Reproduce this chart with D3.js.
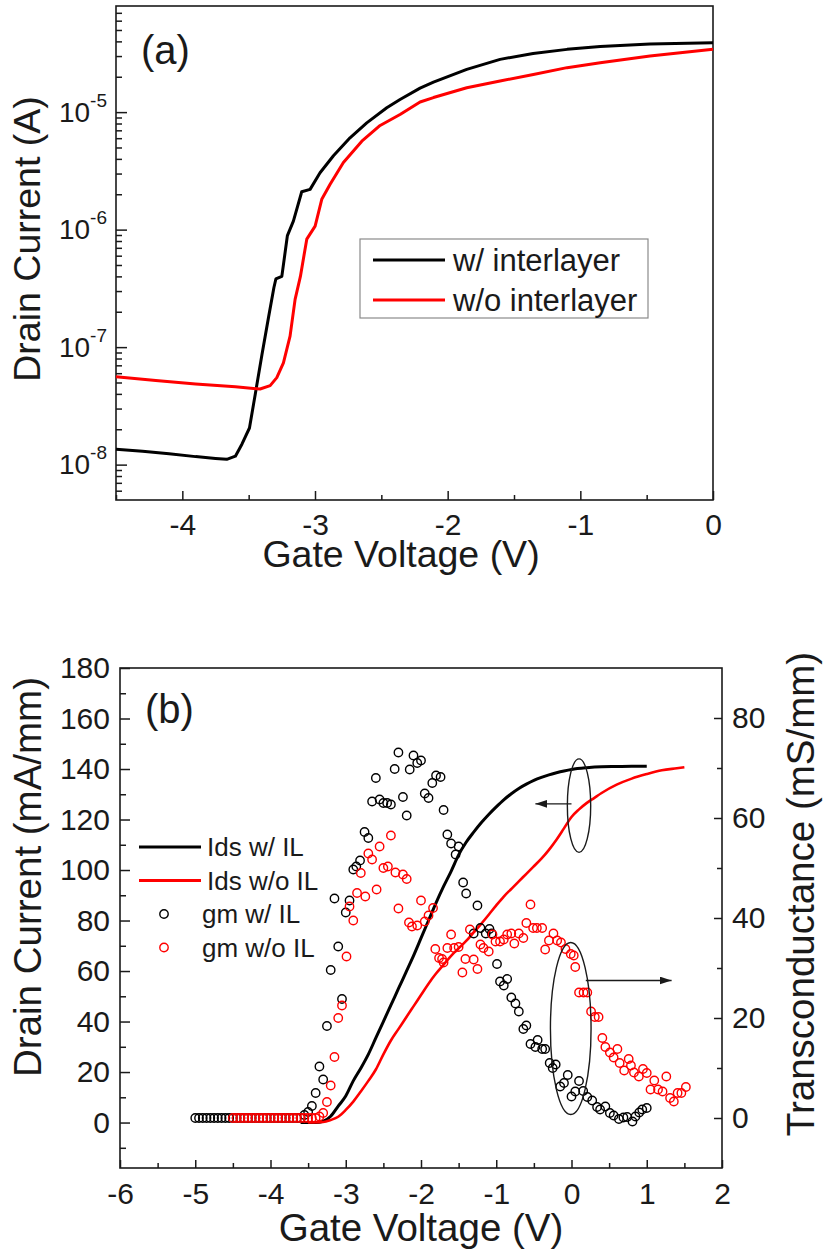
<!DOCTYPE html>
<html>
<head>
<meta charset="utf-8">
<script src="https://cdn.jsdelivr.net/npm/d3@7"></script>
<style>
  body { margin: 0; background: #fff; }
  svg { display: block; background: #fff; }
</style>
</head>
<body>
<svg id="chart" width="825" height="1253"></svg>
<script>
// ---- panel (a): drain current vs gate voltage, log scale [V, A]
const aCurveWithIL = [
  [-4.5, 1.35e-8], [-4.3, 1.3e-8], [-4.1, 1.24e-8], [-3.9, 1.17e-8], [-3.75, 1.13e-8],
  [-3.665, 1.11e-8], [-3.6, 1.18e-8], [-3.55, 1.5e-8], [-3.494, 2.05e-8], [-3.45, 4.0e-8],
  [-3.4, 8.6e-8], [-3.35, 1.8e-7], [-3.31, 3.2e-7], [-3.295, 3.8e-7], [-3.25, 4.0e-7],
  [-3.208, 8.9e-7], [-3.163, 1.18e-6], [-3.1, 2.1e-6], [-3.037, 2.2e-6], [-2.962, 3.05e-6],
  [-2.861, 4.25e-6], [-2.736, 6.05e-6], [-2.61, 8.1e-6], [-2.459, 1.09e-5], [-2.359, 1.28e-5],
  [-2.208, 1.6e-5], [-2.107, 1.8e-5], [-1.856, 2.31e-5], [-1.605, 2.81e-5], [-1.356, 3.16e-5],
  [-1.1, 3.42e-5], [-0.85, 3.62e-5], [-0.475, 3.8e-5], [0, 3.9e-5]
];
const aCurveWithoutIL = [
  [-4.5, 5.6e-8], [-4.2, 5.2e-8], [-3.9, 4.85e-8], [-3.6, 4.6e-8], [-3.414, 4.4e-8],
  [-3.338, 4.7e-8], [-3.288, 5.5e-8], [-3.238, 7.35e-8], [-3.188, 1.24e-7], [-3.15, 2.55e-7],
  [-3.11, 4.0e-7], [-3.062, 8.3e-7], [-2.999, 1.07e-6], [-2.949, 1.81e-6], [-2.886, 2.43e-6],
  [-2.786, 3.72e-6], [-2.647, 5.66e-6], [-2.509, 7.7e-6], [-2.359, 9.55e-6], [-2.208, 1.22e-5],
  [-2.107, 1.33e-5], [-1.856, 1.61e-5], [-1.605, 1.84e-5], [-1.354, 2.09e-5], [-1.1, 2.39e-5],
  [-0.85, 2.63e-5], [-0.475, 3.0e-5], [0, 3.42e-5]
];
const aLegend = ['w/ interlayer', 'w/o interlayer'];
const aTicksX = [-4, -3, -2, -1, 0];
const aDecades = [-8, -7, -6, -5];

// ---- panel (b): Ids [V, mA/mm] on left axis, gm [V, mS/mm] on right axis
const bIdsWithIL = [
  [-3.6, 0], [-3.4, 0], [-3.3, 0.5], [-3.2, 2.5], [-3.1, 6.5], [-3.0, 10.5], [-2.9, 16.5],
  [-2.8, 21.5], [-2.7, 27], [-2.6, 33.5], [-2.5, 40], [-2.4, 46.5], [-2.3, 53], [-2.2, 59.5],
  [-2.1, 66], [-2.0, 73], [-1.9, 80], [-1.8, 87], [-1.7, 93.5], [-1.6, 99.5], [-1.5, 106],
  [-1.4, 111], [-1.3, 115], [-1.2, 118.7], [-1.1, 122], [-1.0, 125], [-0.9, 127.8],
  [-0.8, 130.2], [-0.7, 132.3], [-0.6, 134], [-0.5, 135.5], [-0.4, 136.7], [-0.3, 137.7],
  [-0.2, 138.5], [-0.1, 139.2], [0, 139.8], [0.2, 140.5], [0.4, 140.9], [0.6, 141],
  [0.8, 141.1], [1.0, 141.1]
];
const bIdsWithoutIL = [
  [-3.5, 0], [-3.3, 0.2], [-3.2, 1], [-3.1, 2.3], [-3.0, 5], [-2.9, 8.3], [-2.8, 12.3],
  [-2.7, 16.5], [-2.6, 21], [-2.5, 27], [-2.4, 32.5], [-2.3, 37], [-2.2, 41.5], [-2.1, 46],
  [-2.0, 50.5], [-1.9, 55], [-1.8, 59], [-1.7, 62.5], [-1.6, 66], [-1.5, 69], [-1.4, 71.9],
  [-1.3, 75.3], [-1.2, 78.7], [-1.1, 82.3], [-1.0, 86], [-0.9, 89.5], [-0.8, 92.5],
  [-0.7, 95.5], [-0.6, 98.5], [-0.5, 101.5], [-0.4, 104.5], [-0.3, 108], [-0.2, 112],
  [-0.1, 116.5], [0, 121], [0.1, 124], [0.2, 126.5], [0.3, 128.5], [0.4, 130.5],
  [0.6, 133.8], [0.8, 136.2], [1.0, 138], [1.2, 139.5], [1.4, 140.3], [1.5, 140.7]
];
const bGmWithIL = [
  [-5.0, 0], [-4.95, 0], [-4.9, 0], [-4.85, 0], [-4.8, 0], [-4.75, 0], [-4.7, 0], [-4.65, 0],
  [-4.6, 0], [-4.55, 0], [-4.5, 0], [-4.45, 0], [-4.4, 0], [-4.35, 0], [-4.3, 0], [-4.25, 0],
  [-4.2, 0], [-4.15, 0], [-4.1, 0], [-4.05, 0], [-4.0, 0], [-3.95, 0], [-3.9, 0], [-3.85, 0],
  [-3.8, 0], [-3.75, 0], [-3.7, 0], [-3.65, 0], [-3.6, 0], [-3.55, 0.6], [-3.5, 1.2],
  [-3.45, 2.4], [-3.4, 5.0], [-3.35, 10.3], [-3.3, 7.7], [-3.25, 18.4], [-3.2, 29.6],
  [-3.15, 43.9], [-3.1, 34.3], [-3.05, 23.8], [-3.0, 41.1], [-2.95, 43.5], [-2.9, 49.7],
  [-2.86, 50.3], [-2.81, 51.5], [-2.75, 57.2], [-2.7, 56], [-2.65, 63.3], [-2.6, 68],
  [-2.55, 63.7], [-2.5, 63], [-2.45, 63], [-2.4, 62.7], [-2.35, 69.8], [-2.3, 73.1],
  [-2.24, 64.2], [-2.19, 60.5], [-2.15, 69.7], [-2.1, 72.5], [-2.05, 71], [-2.0, 71.5],
  [-1.95, 64.9], [-1.9, 64], [-1.85, 67], [-1.8, 68.5], [-1.74, 68.2], [-1.7, 61.6],
  [-1.65, 56.7], [-1.6, 54.9], [-1.54, 52.7], [-1.5, 54.3], [-1.44, 47.1], [-1.4, 44.9],
  [-1.3, 36.9], [-1.25, 42.5], [-1.21, 38], [-1.14, 36.9], [-1.09, 37.8], [-1.06, 36.9],
  [-0.99, 30.8], [-0.95, 27.3], [-0.9, 26.5], [-0.855, 27.8], [-0.8, 24.1], [-0.745, 22.9],
  [-0.7, 21.3], [-0.64, 17.8], [-0.6, 18.5], [-0.545, 14.8], [-0.48, 14.2], [-0.45, 15.6],
  [-0.39, 13.8], [-0.35, 13.8], [-0.29, 11], [-0.25, 10], [-0.21, 10.7], [-0.15, 6.3],
  [-0.1, 7], [-0.05, 8.6], [0, 4.3], [0.05, 5.3], [0.1, 7.4], [0.155, 5.4], [0.21, 4.2],
  [0.275, 3.5], [0.34, 2.2], [0.38, 1.7], [0.45, 2.3], [0.51, 1.0], [0.56, 0.5], [0.63, -0.2],
  [0.69, 0.1], [0.74, 0.2], [0.81, -0.7], [0.85, 0.3], [0.9, 1.1], [0.94, 1.7], [1.0, 2.0]
];
const bGmWithoutIL = [
  [-4.5, 0], [-4.45, 0], [-4.4, 0], [-4.35, 0], [-4.3, 0], [-4.25, 0], [-4.2, 0], [-4.15, 0],
  [-4.1, 0], [-4.05, 0], [-4.0, 0], [-3.95, 0], [-3.9, 0], [-3.85, 0], [-3.8, 0], [-3.75, 0],
  [-3.7, 0], [-3.65, 0], [-3.6, 0], [-3.55, 0], [-3.5, 0], [-3.45, 0], [-3.4, 0], [-3.35, 0.3],
  [-3.3, 1.0], [-3.25, 3.2], [-3.2, 6.5], [-3.15, 12.2], [-3.1, 20], [-3.05, 22.5],
  [-2.99, 32.3], [-2.95, 42.3], [-2.9, 39.5], [-2.85, 45], [-2.8, 49], [-2.74, 44.3],
  [-2.7, 52.9], [-2.65, 51.7], [-2.59, 45.7], [-2.55, 54.3], [-2.5, 50], [-2.44, 50.3],
  [-2.4, 56.5], [-2.34, 49.1], [-2.3, 41.9], [-2.24, 48.7], [-2.19, 47.8], [-2.16, 39.1],
  [-2.12, 38.3], [-2.05, 38.5], [-2.0, 43.5], [-1.95, 39.3], [-1.9, 40.5], [-1.84, 42],
  [-1.81, 33.8], [-1.76, 32], [-1.72, 31.8], [-1.7, 31.1], [-1.65, 34], [-1.6, 36.7],
  [-1.56, 34], [-1.5, 34.2], [-1.45, 29.1], [-1.41, 31.8], [-1.35, 37.7], [-1.3, 31.7],
  [-1.25, 29.8], [-1.21, 34.7], [-1.17, 34], [-1.1, 33.3], [-1.05, 36.7], [-1.01, 35.3],
  [-0.95, 35.3], [-0.9, 35.7], [-0.855, 36.7], [-0.8, 36.9], [-0.76, 34.9], [-0.7, 36.9],
  [-0.64, 36], [-0.6, 39], [-0.545, 42.7], [-0.51, 38], [-0.46, 38], [-0.39, 38],
  [-0.35, 33.7], [-0.3, 35.5], [-0.24, 36.9], [-0.19, 35.5], [-0.14, 35.1], [-0.08, 33.8],
  [-0.01, 32.8], [0.03, 32.5], [0.05, 30.2], [0.1, 25.1], [0.16, 25.1], [0.21, 25.1],
  [0.26, 21.3], [0.31, 20.2], [0.36, 20.2], [0.41, 16], [0.45, 14.2], [0.51, 13.1],
  [0.56, 12.1], [0.61, 13.8], [0.64, 11], [0.7, 9.5], [0.76, 11.8], [0.79, 10.5], [0.83, 9.1],
  [0.895, 8.3], [0.95, 9.8], [1.0, 9], [1.05, 5.7], [1.1, 7.5], [1.15, 5.7], [1.21, 5.3],
  [1.26, 8.3], [1.31, 4.0], [1.36, 3.3], [1.41, 5.0], [1.46, 5.0], [1.52, 6.2]
];
const bLegend = ['Ids w/ IL', 'Ids w/o IL', 'gm w/ IL', 'gm w/o IL'];
const bTicksX = [-6, -5, -4, -3, -2, -1, 0, 1, 2];
const bTicksLeft = [0, 20, 40, 60, 80, 100, 120, 140, 160, 180];
const bTicksRight = [0, 20, 40, 60, 80];
// ellipse + arrow call-outs, in data units
const bIdsCallout = { v: 0.1, y: 125.5, dv: 0.155, dy: 18.5, from: 0, to: -0.48, at: 126.2 };
const bGmCallout = { v: -0.01, y: 17.9, dv: 0.27, dy: 17.2, from: 0.19, to: 1.33, at: 27.5 };

const font = '"Liberation Sans", Arial, sans-serif';
const ink = '#1a1a1a';
const red = '#ff0000';

const svg = d3.select('#chart');

svg.append('defs').append('marker')
  .attr('id', 'head')
  .attr('viewBox', '0 0 12 8')
  .attr('refX', 12).attr('refY', 4)
  .attr('markerWidth', 12).attr('markerHeight', 8)
  .attr('markerUnits', 'userSpaceOnUse')
  .attr('orient', 'auto')
  .append('path').attr('d', 'M0,0L12,4L0,8Z').attr('fill', ink);

function axisLayer(axis, transform, fontSize) {
  const g = svg.append('g').attr('transform', transform).call(axis);
  g.select('.domain').remove();
  g.selectAll('line').attr('stroke', ink).attr('stroke-width', 1.5);
  g.selectAll('text')
    .attr('font-size', fontSize)
    .attr('font-family', font)
    .attr('fill', ink);
  return g;
}

function frame(box) {
  svg.append('rect')
    .attr('x', box.left).attr('y', box.top)
    .attr('width', box.right - box.left).attr('height', box.bottom - box.top)
    .attr('fill', 'none').attr('stroke', ink).attr('stroke-width', 1.6);
}

function label(text, x, y, size, rotate, anchor = 'middle') {
  svg.append('text')
    .attr('transform', `translate(${x},${y})` + (rotate ? ' rotate(-90)' : ''))
    .attr('text-anchor', anchor)
    .attr('font-family', font)
    .attr('font-size', size)
    .attr('fill', ink)
    .text(text);
}

// ================= panel (a) =================
const A = { left: 116, top: 6, right: 713, bottom: 500 };
const xA = d3.scaleLinear().domain([-4.5, 0]).range([A.left, A.right]);
const yA = d3.scaleLog().domain([5e-9, 8e-5]).range([A.bottom, A.top]);

const aMinorX = d3.range(-4.5, 0, 0.5).filter(v => !Number.isInteger(v));
const aMinorY = [];
for (let e = -9; e <= -5; e++) {
  for (let m = 2; m <= 9; m++) {
    const v = m * Math.pow(10, e);
    if (v > 5e-9 && v < 7.9e-5) aMinorY.push(v);
  }
}

axisLayer(d3.axisBottom(xA).tickValues(aMinorX).tickSize(-5).tickFormat(''), `translate(0,${A.bottom})`, 0);
axisLayer(d3.axisBottom(xA).tickValues(aTicksX).tickSize(-9).tickPadding(14).tickFormat(d => String(d)),
  `translate(0,${A.bottom})`, 30);
axisLayer(d3.axisLeft(yA).tickValues(aMinorY).tickSize(-6).tickFormat(''), `translate(${A.left},0)`, 0);
const aLeft = axisLayer(d3.axisLeft(yA).tickValues(aDecades.map(e => Math.pow(10, e)))
  .tickSize(-11).tickPadding(9).tickFormat(''), `translate(${A.left},0)`, 28);
aLeft.selectAll('text').each(function (d) {
  const t = d3.select(this);
  t.append('tspan').text('10');
  t.append('tspan').attr('dy', -15).attr('font-size', 19).text(String(Math.round(Math.log10(d))));
});

frame(A);

const lineA = d3.line().x(d => xA(d[0])).y(d => yA(d[1]));
svg.append('path').datum(aCurveWithIL).attr('d', lineA)
  .attr('fill', 'none').attr('stroke', '#000').attr('stroke-width', 3).attr('stroke-linejoin', 'round');
svg.append('path').datum(aCurveWithoutIL).attr('d', lineA)
  .attr('fill', 'none').attr('stroke', red).attr('stroke-width', 3).attr('stroke-linejoin', 'round');

// legend (a)
const aLeg = svg.append('g').attr('transform', `translate(${A.left + 244},${A.top + 233})`);
aLeg.append('rect').attr('width', 288).attr('height', 79)
  .attr('fill', '#fff').attr('stroke', '#8a8a8a').attr('stroke-width', 1.2);
aLeg.selectAll('g.entry').data(aLegend).join('g')
  .attr('class', 'entry')
  .attr('transform', (d, i) => `translate(0,${21 + i * 40})`)
  .each(function (d, i) {
    const g = d3.select(this);
    g.append('line').attr('x1', 13).attr('x2', 85)
      .attr('stroke', i === 0 ? '#000' : red).attr('stroke-width', 3);
    g.append('text').attr('x', 93).attr('dy', '0.35em')
      .attr('font-family', font).attr('font-size', 31).attr('fill', ink).text(d);
  });

label('(a)', A.left + 25, A.top + 58, 40, false, 'start');
label('Gate Voltage (V)', 401, 567, 37.5, false);
label('Drain Current (A)', 40, 239, 37.5, true);

// ================= panel (b) =================
const B = { left: 120, top: 668, right: 722, bottom: 1168 };
const xB = d3.scaleLinear().domain([-6, 2]).range([B.left, B.right]);
const yL = d3.scaleLinear().domain([-18, 180]).range([B.bottom, B.top]);
const yR = d3.scaleLinear().domain([-10, 90]).range([B.bottom, B.top]);

axisLayer(d3.axisBottom(xB).tickValues(d3.range(-5.5, 2, 1)).tickSize(-5).tickFormat(''), `translate(0,${B.bottom})`, 0);
axisLayer(d3.axisBottom(xB).tickValues(bTicksX).tickSize(-8).tickPadding(15).tickFormat(d => String(d)),
  `translate(0,${B.bottom})`, 30);
axisLayer(d3.axisLeft(yL).tickValues(d3.range(-10, 180, 20)).tickSize(-6).tickFormat(''), `translate(${B.left},0)`, 0);
axisLayer(d3.axisLeft(yL).tickValues(bTicksLeft).tickSize(-10).tickPadding(10).tickFormat(d => String(d)),
  `translate(${B.left},0)`, 30);
axisLayer(d3.axisRight(yR).tickValues(d3.range(-10, 90, 20).filter(v => v > -10)).tickSize(-5).tickFormat(''),
  `translate(${B.right},0)`, 0);
axisLayer(d3.axisRight(yR).tickValues(bTicksRight).tickSize(-8).tickPadding(10).tickFormat(d => String(d)),
  `translate(${B.right},0)`, 30);

frame(B);

const lineL = d3.line().x(d => xB(d[0])).y(d => yL(d[1])).curve(d3.curveMonotoneX);
svg.append('path').datum(bIdsWithIL).attr('d', lineL)
  .attr('fill', 'none').attr('stroke', '#000').attr('stroke-width', 3);
svg.append('path').datum(bIdsWithoutIL).attr('d', lineL)
  .attr('fill', 'none').attr('stroke', red).attr('stroke-width', 2.6);

function scatter(data, color) {
  svg.append('g').selectAll('circle').data(data).join('circle')
    .attr('cx', d => xB(d[0]))
    .attr('cy', d => yR(d[1]))
    .attr('r', 4.2)
    .attr('fill', 'none')
    .attr('stroke', color)
    .attr('stroke-width', 1.4);
}
scatter(bGmWithIL, '#000');
scatter(bGmWithoutIL, red);

// call-outs
function callout(c, yScale) {
  const cx = xB(c.v), cy = yScale(c.y);
  svg.append('ellipse')
    .attr('cx', cx).attr('cy', cy)
    .attr('rx', Math.abs(xB(c.v + c.dv) - cx))
    .attr('ry', Math.abs(yScale(c.y + c.dy) - cy))
    .attr('fill', 'none').attr('stroke', ink).attr('stroke-width', 1.4);
  svg.append('line')
    .attr('x1', xB(c.from)).attr('x2', xB(c.to))
    .attr('y1', yScale(c.at)).attr('y2', yScale(c.at))
    .attr('stroke', ink).attr('stroke-width', 1.4)
    .attr('marker-end', 'url(#head)');
}
callout(bIdsCallout, yL);
callout(bGmCallout, yR);

// legend (b)
const bLeg = svg.append('g').attr('transform', `translate(${B.left},${B.top + 179})`);
bLeg.selectAll('g.entry').data(bLegend).join('g')
  .attr('class', 'entry')
  .attr('transform', (d, i) => `translate(0,${i * 33.5})`)
  .each(function (d, i) {
    const g = d3.select(this);
    const color = i % 2 === 0 ? '#000' : red;
    if (i < 2) {
      g.append('line').attr('x1', 19).attr('x2', 81).attr('stroke', color).attr('stroke-width', 3);
      g.append('text').attr('x', 87);
    } else {
      g.append('circle').attr('cx', 44).attr('r', 4.2)
        .attr('fill', 'none').attr('stroke', color).attr('stroke-width', 1.4);
      g.append('text').attr('x', 82);
    }
    g.select('text').attr('dy', '0.35em')
      .attr('font-family', font).attr('font-size', 26).attr('fill', ink).text(d);
  });

label('(b)', B.left + 25, B.top + 55, 40, false, 'start');
label('Gate Voltage (V)', (B.left + B.right) / 2, 1241, 38.5, false);
label('Drain Current (mA/mm)', 41, 877, 38.5, true);
label('Transconductance (mS/mm)', 814, 894, 38.5, true);
</script>
</body>
</html>
